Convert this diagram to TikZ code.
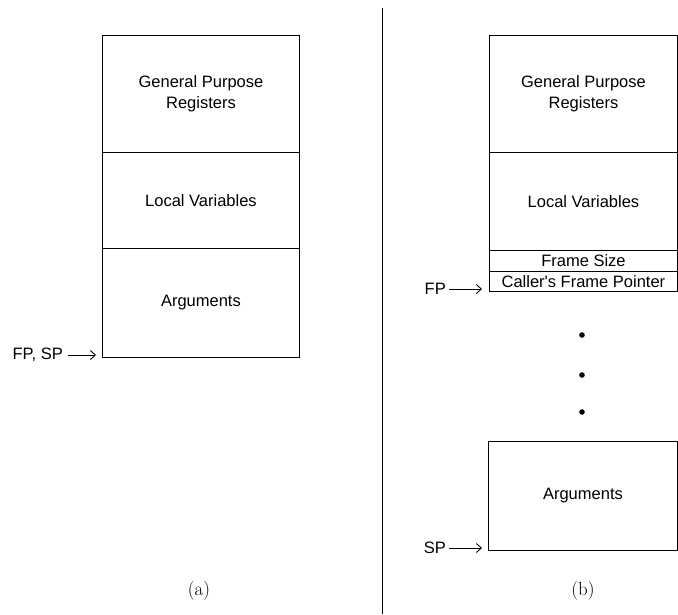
\documentclass[tikz,border=0pt]{standalone}
\usepackage{fontspec}
\setsansfont{Liberation Sans}
\usetikzlibrary{arrows.meta}
\begin{document}
\begin{tikzpicture}[x=1pt,y=-1pt,
  cell/.style={draw=black,line width=0.9pt,inner sep=0pt,anchor=north west,align=center,
    font=\sffamily\fontsize{16.5}{21}\selectfont},
  lbl/.style={inner sep=0pt,anchor=east,font=\sffamily\fontsize{16.5}{21}\selectfont},
  ptr/.style={line width=0.9pt,-{Straight Barb[length=5pt,width=9pt]}},
  captxt/.style={inner sep=0pt,font=\rmfamily\fontsize{19}{22}\selectfont},
  dotm/.style={fill=black}]
\useasboundingbox (0,0) rectangle (678,614);
% (a)
\node[cell,minimum width=197pt,minimum height=117pt] (a1) at (102,35) {General Purpose\\Registers};
\node[cell,minimum width=197pt,minimum height=96pt] (a2) at (102,152) {Local Variables};
\node[cell,minimum width=197pt,minimum height=109pt] (a3) at (102,248) {Arguments};
\node[lbl] (fpsp) at (63,355) {FP, SP};
\coordinate (fpspend) at (96,355);
\draw[ptr] (fpsp.east) ++(5,0) -- (fpspend);
\node[captxt] (capa) at (199,591) {(a)};
% separator
\coordinate (septop) at (382,8);
\coordinate (sepbot) at (382,614);
\draw[line width=0.9pt] (septop) -- (sepbot);
% (b)
\node[cell,minimum width=188pt,minimum height=117pt] (b1) at (489,35) {General Purpose\\Registers};
\node[cell,minimum width=188pt,minimum height=98pt] (b2) at (489,152) {Local Variables};
\node[cell,minimum width=188pt,minimum height=21pt] (b3) at (489,250) {Frame Size};
\node[cell,minimum width=188pt,minimum height=20pt] (b4) at (489,271) {Caller\textquotesingle s Frame Pointer};
\node[lbl] (fp) at (446,289) {FP};
\coordinate (fpend) at (482,289);
\draw[ptr] (fp.east) ++(3,0) -- (fpend);
\fill[dotm] (582,335) circle (2.8);
\fill[dotm] (582,375) circle (2.8);
\fill[dotm] (582,412) circle (2.8);
\node[cell,minimum width=189pt,minimum height=109pt] (b5) at (488,441) {Arguments};
\node[lbl] (sp) at (446,548) {SP};
\coordinate (spend) at (482,548);
\draw[ptr] (sp.east) ++(3,0) -- (spend);
\node[captxt] (capb) at (583,591) {(b)};
\end{tikzpicture}
\end{document}
